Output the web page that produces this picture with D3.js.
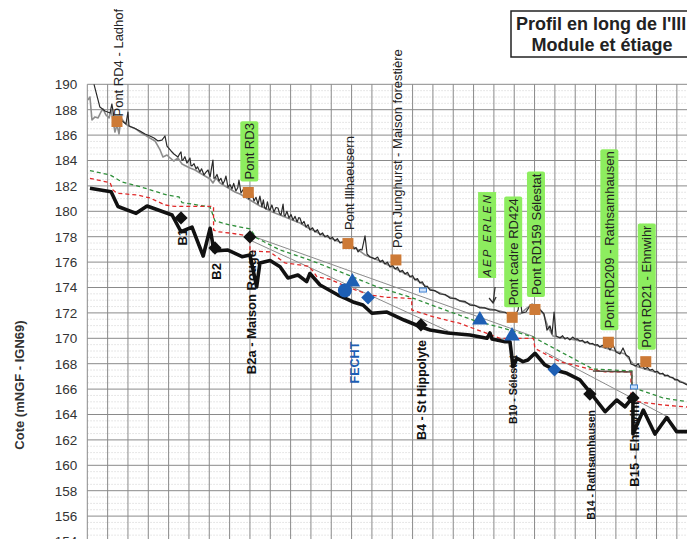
<!DOCTYPE html>
<html>
<head>
<meta charset="utf-8">
<script src="https://cdn.jsdelivr.net/npm/d3@7"></script>
<style>
  body { margin: 0; background: #fff; }
  svg { display: block; }
  text { font-family: "Liberation Sans", Arial, sans-serif; }
</style>
</head>
<body>
<svg id="chart" width="687" height="539"></svg>
<script>
// ---- Data: long profile of the Ill (distance in km, elevation in m NGF-IGN69) ----

const yTickValues = d3.range(154, 191, 2);

// water line, survey A (dark trace)
const waterLineA = [
  [0.33,190.0],[0.62,188.21],[0.87,187.90],[1.12,187.74],[1.21,188.45],[1.31,187.43],[1.51,187.27],
  [1.71,187.11],[1.90,186.87],[2.00,187.82],[2.05,186.72],[2.30,186.56],[2.59,186.32],[2.84,186.09],
  [3.08,185.93],[3.28,185.77],[3.48,185.54],[3.67,185.61],[3.82,185.93],[3.92,185.14],[4.12,184.75],
  [4.26,184.51],[4.46,184.28],[4.55,184.55],[4.61,184.67],[4.66,184.0],[4.71,184.04],[4.80,184.3],
  [4.90,183.80],[4.97,183.95],[5.05,184.20],[5.10,183.6],[5.15,183.57],[5.25,183.75],[5.35,183.33],
  [5.42,183.5],[5.54,183.09],[5.62,183.35],[5.74,182.86],[5.85,183.1],[5.94,183.25],[6.04,182.70],
  [6.10,183.3],[6.18,184.04],[6.23,182.6],[6.28,182.62],[6.38,182.9],[6.48,182.39],[6.57,182.6],
  [6.67,182.15],[6.75,182.4],[6.82,182.78],[6.92,181.91],[7.02,182.1],[7.12,181.76],[7.20,182.2],
  [7.31,181.60],[7.40,181.85],[7.46,182.46],[7.56,181.44],[7.66,181.7],[7.76,181.20],[7.85,181.5],
  [7.95,180.97],[8.03,181.3],[8.10,181.52],[8.20,180.81],[8.30,181.1],[8.40,180.57],[8.49,181.20],
  [8.59,180.34],[8.66,180.9],[8.72,180.3],[8.79,180.18],[8.86,180.75],[8.93,180.2],[8.99,180.10],
  [9.08,180.5],[9.18,179.94],[9.28,180.3],[9.38,180.26],[9.45,179.85],[9.53,179.71],[9.63,180.57],
  [9.68,179.7],[9.73,179.63],[9.82,180.0],[9.92,179.47],[10.02,179.75],[10.12,179.31],[10.22,179.6],
  [10.32,179.16],[10.40,179.5],[10.46,179.47],[10.56,179.00],[10.66,179.2],[10.76,178.76],[10.86,178.95],
  [10.95,178.53],[11.08,178.7],[11.20,178.37],[11.32,178.55],[11.45,178.13],[11.57,178.3],[11.69,177.98],
  [11.82,178.1],[11.94,177.82],[12.06,177.95],[12.18,177.66],[12.30,177.85],[12.43,177.50],[12.55,177.6],
  [12.68,177.35],[12.80,177.45],[12.92,177.27],[13.02,177.3],[13.12,177.03],[13.22,177.15],[13.32,176.80],
  [13.42,177.0],[13.51,176.95],[13.66,178.06],[13.76,176.64],[13.91,176.40],[14.00,176.35],[14.15,176.24],
  [14.28,176.4],[14.40,176.01],[14.52,176.15],[14.64,175.85],[14.76,176.0],[14.89,175.61],[15.02,175.75],
  [15.14,175.46],[15.26,175.6],[15.38,175.22],[15.50,175.35],[15.63,175.06],[15.75,175.2],[15.87,174.83],
  [16.00,174.95],[16.12,174.59],[16.24,174.7],[16.36,174.35],[16.48,174.45],[16.61,174.04],[16.72,174.1],
  [16.86,173.80],[17.10,173.75],[17.35,173.49],[17.60,173.45],[17.84,173.17],[18.10,173.15],[18.33,172.94],
  [18.58,172.9],[18.82,172.62],[19.05,172.6],[19.31,172.39],[19.55,172.4],[19.81,172.23],[20.05,172.25],
  [20.30,172.07],[20.55,172.05],[20.79,171.83],[21.04,171.83],[21.19,172.23],[21.28,173.33],[21.38,171.99],
  [21.58,172.07],[21.77,172.54],[22.02,172.62],[22.27,172.23],[22.47,171.91],[22.61,170.65],[22.76,170.97],
  [22.86,170.34],[22.96,172.07],[23.06,170.18],[23.25,170.02],[23.38,170.2],[23.50,169.94],[23.62,170.05],
  [23.74,169.87],[23.87,170.1],[23.99,169.94],[24.10,169.95],[24.23,169.79],[24.35,169.85],[24.48,169.63],
  [24.60,169.75],[24.72,169.55],[24.85,169.6],[24.97,169.47],[25.10,169.5],[25.21,169.31],[25.34,169.45],
  [25.47,169.24],[25.60,169.35],[25.71,169.08],[25.86,169.47],[26.01,168.92],[26.20,168.76],[26.35,169.24],
  [26.50,168.69],[26.65,168.53],[26.74,167.98],[26.99,167.82],[27.10,168.0],[27.18,167.74],[27.30,167.85],
  [27.43,167.58],[27.55,167.7],[27.67,167.50],[27.80,167.55],[27.92,167.35],[28.05,167.4],[28.16,167.19],
  [28.30,167.25],[28.42,167.03],[28.55,167.1],[28.66,166.95],[28.80,166.9],[28.91,166.72],[29.03,166.75],
  [29.15,166.56],[29.30,166.5],[29.50,166.32]
];

// water line, survey B (light trace)
const waterLineB = [
  [0.03,188.76],[0.13,189.0],[0.23,187.19],[0.38,187.43],[0.53,187.35],[0.67,187.82],[0.77,188.06],
  [0.92,187.58],[1.07,187.35],[1.17,187.98],[1.26,187.19],[1.36,186.24],[1.46,186.80],[1.56,186.09],
  [1.66,187.35],[1.81,187.03],[1.95,186.80],[2.15,186.64],[2.40,186.48],[2.59,186.24],[2.84,186.01],
  [3.08,185.77],[3.33,185.54],[3.58,184.83],[3.72,184.28],[3.92,184.43],[4.07,184.20],[4.26,183.96],
  [4.46,184.20],[4.66,183.72],[4.85,183.57],[5.05,183.41],[5.30,183.25],[5.54,183.02],[5.79,182.78],
  [6.04,182.54],[6.18,182.23],[6.33,182.62],[6.53,182.23],[6.77,181.99],[7.02,181.76],[7.26,181.52],
  [7.51,181.36],[7.76,181.13],[8.00,180.89],[8.25,180.65],[8.49,180.42],[8.74,180.26],[8.99,180.02],
  [9.23,179.87],[9.48,179.71],[9.73,179.55],[9.97,179.39],[10.21,179.24],[10.46,179.08],[10.71,178.84],
  [10.95,178.61],[11.20,178.45],[11.45,178.21],[11.94,177.90],[12.43,177.58],[12.92,177.35],[13.17,177.11],
  [13.41,176.87],[13.66,176.56],[13.91,176.40],[14.40,176.09],[14.89,175.69],[15.38,175.30],[15.87,174.91],
  [16.36,174.43],[16.86,173.88],[17.35,173.57],[17.84,173.25],[18.33,172.94],[18.82,172.70],[19.31,172.46],
  [19.81,172.31],[20.30,172.15],[20.79,171.91],[21.28,171.91],[21.58,172.31],[21.87,172.70],[22.17,172.46],
  [22.42,171.99],[22.66,170.89],[22.91,170.18],[23.15,170.10],[23.50,170.02],[23.99,169.87],[24.48,169.71],
  [24.97,169.47],[25.47,169.24],[25.96,169.00],[26.45,168.76],[26.69,168.29],[26.94,167.82],[27.43,167.58],
  [27.92,167.35],[28.42,167.11],[28.91,166.80],[29.50,166.40]
];

// mean-flow line (module)
const moduleLine = [
  [0.13,183.21],[1.12,182.86],[1.71,182.31],[2.59,181.94],[3.92,181.28],[4.51,181.13],[4.66,180.69],
  [6.04,180.34],[6.28,179.24],[7.02,178.92],[8.00,178.61],[8.33,177.90],[9.48,176.95],[10.95,176.16],
  [12.78,175.02],[14.26,174.04],[15.87,173.25],[17.20,172.46],[18.97,171.44],[20.79,170.65],[21.92,170.10],
  [24.87,167.58],[26.79,167.43],[26.79,166.09],[27.05,166.01],[28.32,165.30],[29.50,165.01]
];

// low-flow line (étiage)
const lowFlowLine = [
  [0.13,182.60],[1.12,182.25],[1.26,181.68],[1.46,181.42],[2.49,181.28],[3.08,181.05],[3.82,180.50],
  [4.31,180.38],[6.21,180.38],[6.21,178.53],[6.43,178.39],[7.12,178.27],[7.90,178.06],[8.00,178.06],
  [8.00,176.87],[8.99,176.80],[9.72,175.93],[10.85,175.69],[11.10,175.30],[11.30,174.83],[11.94,174.65],
  [12.78,174.04],[13.91,173.41],[14.74,173.23],[15.96,173.13],[15.96,172.23],[17.00,171.70],[17.84,171.36],
  [18.33,171.18],[18.97,170.79],[19.66,170.39],[20.30,170.00],[21.94,170.00],[22.02,169.21],[22.61,168.69],
  [23.25,168.16],[24.72,167.58],[25.47,167.35],[26.74,167.35],[26.74,165.14],[27.04,165.01],[28.32,164.75],
  [29.50,164.59]
];

// river bed (thalweg)
const bedLine = [
  [0.13,181.81],[1.17,181.54],[1.51,180.38],[2.40,179.84],[2.94,180.42],[4.17,179.71],[4.61,178.39],
  [5.15,178.76],[5.70,176.48],[6.04,178.66],[6.23,176.87],[6.92,176.95],[7.61,176.43],[8.00,176.56],
  [8.33,174.04],[8.49,175.93],[8.99,176.13],[9.48,175.64],[9.87,174.75],[10.36,174.98],[10.79,174.46],
  [10.95,175.10],[11.45,174.20],[12.33,173.41],[12.78,173.09],[13.07,172.86],[13.56,172.62],[14.00,171.97],
  [14.74,172.07],[15.58,171.44],[16.36,170.93],[16.86,170.65],[17.74,170.42],[18.82,170.26],[19.66,170.00],
  [19.81,170.42],[19.91,169.94],[20.55,169.73],[20.79,169.73],[20.94,167.76],[21.13,168.43],[21.43,168.16],
  [21.67,168.29],[22.02,168.82],[22.51,167.90],[23.00,167.50],[23.59,167.24],[24.23,166.72],[24.72,165.77],
  [25.47,164.22],[26.04,165.14],[26.45,164.61],[26.84,165.38],[26.84,162.46],[27.35,164.35],[27.92,162.46],
  [28.50,163.76],[28.99,162.65],[29.64,162.65]
];

// straight reference slopes
const slopeUpper = [[8.10,178.06],[22.02,170.10]];
const slopeLower = [[8.10,177.66],[17.84,170.50]];
const slopeLower2 = [[22.51,168.92],[26.79,165.30],[28.66,163.72]];
const weirStep = [[24.87,167.43],[26.79,167.35],[26.79,166.17]];

// bridges
const bridgeNames = ["Pont RD4 - Ladhof","Pont RD3","Pont Illhaeusern","Pont Junghurst - Maison forestière",
  "Pont cadre RD424","Pont RD159 Sélestat","Pont RD209 - Rathsamhausen","Pont RD21 - Ehnwihr"];
const bridgeKm = [1.46, 7.92, 12.82, 15.18, 20.90, 22.02, 25.63, 27.47];
const bridgeZ = [187.07, 181.48, 177.46, 176.17, 171.65, 172.27, 169.69, 168.16];
const bridgeHighlighted = [false, true, false, false, true, true, true, true];

// weirs (seuils)
const weirNames = ["B1","B2","B2a - Maison Rouge","B4 - St Hippolyte","B14 - Rathsamhausen","B15 - Ehnwihr"];
const weirKm = [4.61, 6.28, 8.00, 16.41, 24.72, 26.84];
const weirZ = [179.48, 177.11, 177.98, 171.05, 165.61, 165.30];

// Fecht confluence and other gauged points
const fechtCircle = [[12.67,173.76]];
const blueTriangles = [[13.04,174.43],[19.31,171.44],[20.89,170.18]];
const blueDiamonds = [[13.81,173.21],[22.98,167.54]];
const smallGauges = [[16.51,173.80],[26.89,166.17]];

// weir B10 sits at the Sélestat gauge
const b10Label = "B10 - Sélestat";
const b10Point = [20.89, 170.18];
const aepLabel = "AEP ERLEN";
const aepPoint = [19.96, 172.78];

// ---- Drawing ----
const svg = d3.select("#chart");
const W = 687, H = 539;
const colPx = 20.33;
const x0 = 87.3;
const x = d3.scaleLinear().domain([0, 29.5]).range([x0, x0 + 29.5 * colPx]);
const y = d3.scaleLinear().domain([154, 190]).range([541.5, 84.3]);

svg.append("rect").attr("width", W).attr("height", H).attr("fill", "#fff");

svg.append("defs").append("clipPath").attr("id", "plot")
  .append("rect").attr("x", x0).attr("y", y(190) - 2).attr("width", W - x0).attr("height", H);

const grid = svg.append("g");
// minor horizontal lines every 0.5 m
grid.selectAll("line.minor")
  .data(d3.range(154, 190, 0.5).filter(v => v % 2 !== 0))
  .join("line")
  .attr("x1", x0).attr("x2", W)
  .attr("y1", d => y(d)).attr("y2", d => y(d))
  .attr("stroke", "#c9c9c9").attr("stroke-width", 0.6).attr("stroke-dasharray", "1.5,1.5");
// major horizontal lines every 2 m
grid.selectAll("line.major")
  .data(yTickValues)
  .join("line")
  .attr("x1", x0).attr("x2", W)
  .attr("y1", d => y(d)).attr("y2", d => y(d))
  .attr("stroke", "#8a8a8a").attr("stroke-width", 1);
// vertical lines every km
grid.selectAll("line.v")
  .data(d3.range(0, 30, 1))
  .join("line")
  .attr("x1", d => x(d)).attr("x2", d => x(d))
  .attr("y1", y(190)).attr("y2", y(154))
  .attr("stroke", "#8a8a8a").attr("stroke-width", 1);

// y axis tick labels
const yAxis = d3.axisLeft(y).tickValues(yTickValues).tickSize(0).tickPadding(10);
const yAxisG = svg.append("g").attr("transform", `translate(${x0},0)`).call(yAxis);
yAxisG.select(".domain").remove();
yAxisG.selectAll("text")
  .attr("font-family", "Liberation Sans, Arial, sans-serif")
  .attr("font-size", 13.5).attr("fill", "#333");

svg.append("text")
  .attr("transform", "translate(19,385) rotate(-90)")
  .attr("text-anchor", "middle").attr("dy", "0.35em")
  .attr("font-size", 13).attr("font-weight", "bold").attr("fill", "#333")
  .text("Cote (mNGF - IGN69)");

const plot = svg.append("g").attr("clip-path", "url(#plot)");
const line = d3.line().x(d => x(d[0])).y(d => y(d[1]));

plot.append("path").datum(slopeUpper).attr("d", line)
  .attr("fill", "none").attr("stroke", "#8c8c8c").attr("stroke-width", 1);
plot.append("path").datum(slopeLower).attr("d", line)
  .attr("fill", "none").attr("stroke", "#8c8c8c").attr("stroke-width", 1);
plot.append("path").datum(slopeLower2).attr("d", line)
  .attr("fill", "none").attr("stroke", "#8c8c8c").attr("stroke-width", 1);

plot.append("path").datum(moduleLine).attr("d", line)
  .attr("fill", "none").attr("stroke", "#2f8f3a").attr("stroke-width", 1.3).attr("stroke-dasharray", "4,3");
plot.append("path").datum(lowFlowLine).attr("d", line)
  .attr("fill", "none").attr("stroke", "#e02a2a").attr("stroke-width", 1.3).attr("stroke-dasharray", "4,3");
plot.append("path").datum(weirStep).attr("d", line)
  .attr("fill", "none").attr("stroke", "#5a4a40").attr("stroke-width", 1.4);

plot.append("path").datum(waterLineB).attr("d", line)
  .attr("fill", "none").attr("stroke", "#8d8d8d").attr("stroke-width", 1.6).attr("stroke-linejoin", "round");
plot.append("path").datum(waterLineA).attr("d", line)
  .attr("fill", "none").attr("stroke", "#2a2a2a").attr("stroke-width", 1.2).attr("stroke-linejoin", "round");

plot.append("path").datum(bedLine).attr("d", line)
  .attr("fill", "none").attr("stroke", "#111").attr("stroke-width", 3.6).attr("stroke-linejoin", "round");

// small gauge marks
plot.selectAll("rect.gauge").data(smallGauges).join("rect")
  .attr("x", d => x(d[0]) - 3.5).attr("y", d => y(d[1]) - 2)
  .attr("width", 7).attr("height", 4)
  .attr("fill", "#cfe2fb").attr("stroke", "#3b7fd0").attr("stroke-width", 1);

const diamond = d3.symbol().type(d3.symbolSquare);

// weir markers
plot.selectAll("path.weir").data(weirKm).join("path")
  .attr("d", diamond.size(88)())
  .attr("transform", (d, i) => `translate(${x(d)},${y(weirZ[i])}) rotate(45)`)
  .attr("fill", "#111");

// blue markers
const blue = "#1e5fb4";
plot.selectAll("circle.fecht").data(fechtCircle).join("circle")
  .attr("cx", d => x(d[0])).attr("cy", d => y(d[1])).attr("r", 7).attr("fill", blue);
plot.selectAll("path.tri").data(blueTriangles).join("path")
  .attr("d", d3.symbol().type(d3.symbolTriangle).size(105)())
  .attr("transform", d => `translate(${x(d[0])},${y(d[1])})`)
  .attr("fill", blue);
plot.selectAll("path.bdia").data(blueDiamonds).join("path")
  .attr("d", diamond.size(95)())
  .attr("transform", d => `translate(${x(d[0])},${y(d[1])}) rotate(45)`)
  .attr("fill", blue);

// bridges
const orange = "#cd7a36";
plot.selectAll("rect.bridge").data(bridgeKm).join("rect")
  .attr("x", d => x(d) - 5.5).attr("y", (d, i) => y(bridgeZ[i]) - 5.5)
  .attr("width", 11).attr("height", 11).attr("fill", orange);

const labels = svg.append("g");
const bridgeGap = [5, 13, 13.5, 12, 12, 14.5, 14, 14];
bridgeKm.forEach((km, i) => {
  const px = x(km) + 1, py = y(bridgeZ[i]) - bridgeGap[i];
  const g = labels.append("g").attr("transform", `translate(${px},${py}) rotate(-90)`);
  const t = g.append("text").attr("dy", "0.36em").attr("font-size", 13).attr("fill", "#222")
    .text(bridgeNames[i]);
  if (bridgeHighlighted[i]) {
    const len = t.node().getComputedTextLength();
    g.insert("rect", "text").attr("x", -2).attr("y", -9).attr("width", len + 4).attr("height", 18)
      .attr("rx", 2).attr("fill", "#8ded5f");
  }
});

// weir labels, read upward, top just under the marker
const weirGap = [11, 15, 13, 15, 16, 2];
const weirFont = [13, 13, 13, 12.5, 10.5, 13];
weirKm.forEach((km, i) => {
  labels.append("text")
    .attr("transform", `translate(${x(km) + 1},${y(weirZ[i]) + weirGap[i]}) rotate(-90)`)
    .attr("text-anchor", "end").attr("dy", "0.36em")
    .attr("font-size", weirFont[i]).attr("font-weight", "bold").attr("fill", "#111")
    .text(weirNames[i]);
});
labels.append("text")
  .attr("transform", `translate(${x(b10Point[0]) + 1},${y(b10Point[1]) + 19}) rotate(-90)`)
  .attr("text-anchor", "end").attr("dy", "0.36em")
  .attr("font-size", 10.5).attr("font-weight", "bold").attr("fill", "#111")
  .text(b10Label);

// Fecht tributary label
labels.append("text")
  .attr("transform", `translate(${x(fechtCircle[0][0]) + 10},${y(fechtCircle[0][1]) + 72}) rotate(-90)`)
  .attr("text-anchor", "middle").attr("dy", "0.36em")
  .attr("font-size", 12.5).attr("font-weight", "bold").attr("fill", blue)
  .text("FECHT");

// drinking-water intake note with arrow
{
  const ax = x(aepPoint[0]), ay = y(aepPoint[1]);
  const g = labels.append("g").attr("transform", `translate(${ax - 6},${ay - 26}) rotate(-90)`);
  const t = g.append("text").attr("dy", "0.36em").attr("font-size", 11.5)
    .attr("font-style", "italic").attr("letter-spacing", 2.2)
    .attr("font-family", "DejaVu Sans, sans-serif").attr("fill", "#222").text(aepLabel);
  const len = t.node().getComputedTextLength();
  g.insert("rect", "text").attr("x", -1).attr("y", -9).attr("width", len + 2).attr("height", 18)
    .attr("fill", "#8ded5f");
  labels.append("path")
    .attr("d", `M${ax + 2},${ay - 16} L${ax},${ay} M${ax - 4},${ay - 5} L${ax},${ay} L${ax + 3},${ay - 6}`)
    .attr("fill", "none").attr("stroke", "#333").attr("stroke-width", 1.3);
}

// title box
const title = svg.append("g");
title.append("rect").attr("x", 511).attr("y", 11).attr("width", 200).attr("height", 46)
  .attr("fill", "#fff").attr("stroke", "#222").attr("stroke-width", 1.5);
title.append("text").attr("x", 516).attr("y", 30)
  .attr("font-size", 18).attr("font-weight", "bold").attr("fill", "#222")
  .text("Profil en long de l'Ill");
title.append("text").attr("x", 602).attr("y", 51).attr("text-anchor", "middle")
  .attr("font-size", 18).attr("font-weight", "bold").attr("fill", "#222")
  .text("Module et étiage");
</script>
</body>
</html>
